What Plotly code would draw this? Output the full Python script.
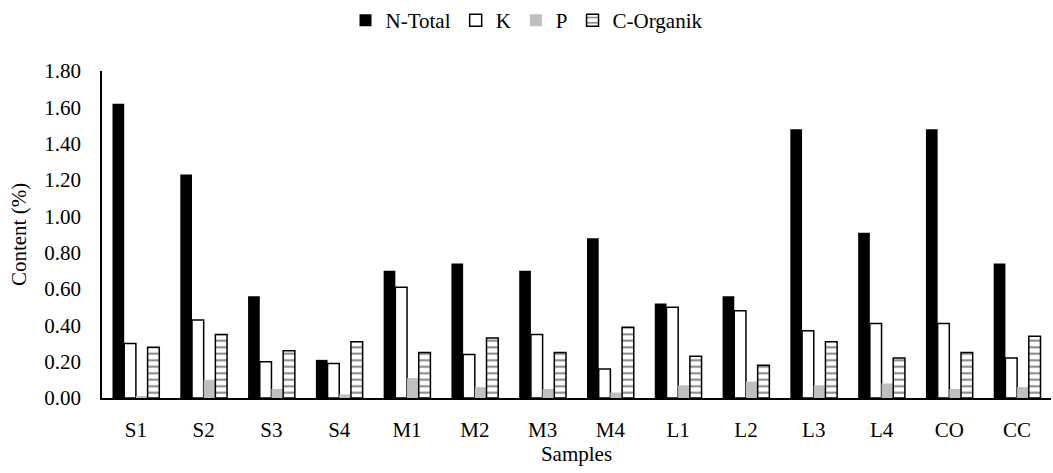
import plotly.graph_objects as go

samples = ["S1", "S2", "S3", "S4", "M1", "M2", "M3", "M4", "L1", "L2", "L3", "L4", "CO", "CC"]
n_total = [1.62, 1.23, 0.56, 0.21, 0.70, 0.74, 0.70, 0.88, 0.52, 0.56, 1.48, 0.91, 1.48, 0.74]
k_vals = [0.30, 0.43, 0.20, 0.19, 0.61, 0.24, 0.35, 0.16, 0.50, 0.48, 0.37, 0.41, 0.41, 0.22]
p_vals = [0.01, 0.10, 0.05, 0.02, 0.11, 0.06, 0.05, 0.03, 0.07, 0.09, 0.07, 0.08, 0.05, 0.06]
c_org = [0.28, 0.35, 0.26, 0.31, 0.25, 0.33, 0.25, 0.39, 0.23, 0.18, 0.31, 0.22, 0.25, 0.34]
y_ticks = [0.0, 0.2, 0.4, 0.6, 0.8, 1.0, 1.2, 1.4, 1.6, 1.8]

font_family = "Liberation Serif"
fs = 21

fig = go.Figure()
fig.add_trace(go.Bar(name="N-Total", x=samples, y=n_total,
                     marker=dict(color="black", line=dict(color="black", width=0))))
fig.add_trace(go.Bar(name="K", x=samples, y=k_vals,
                     marker=dict(color="white", line=dict(color="black", width=1.5))))
fig.add_trace(go.Bar(name="P", x=samples, y=p_vals,
                     marker=dict(color="#BFBFBF", line=dict(color="#BFBFBF", width=0))))
fig.add_trace(go.Bar(name="C-Organik", x=samples, y=c_org,
                     marker=dict(color="white", line=dict(color="black", width=1.5),
                                 pattern=dict(shape="-", fgcolor="black", bgcolor="white",
                                              size=6.5, solidity=0.3))))

fig.update_layout(
    width=1053, height=473,
    margin=dict(l=102, r=2, t=71, b=75),
    paper_bgcolor="white", plot_bgcolor="white",
    barmode="group", bargap=0.31, bargroupgap=0,
    font=dict(family=font_family, size=fs, color="black"),
    legend=dict(orientation="h", xref="container", x=0.5, xanchor="center",
                yref="container", y=1.0, yanchor="top",
                font=dict(family=font_family, size=fs), itemwidth=30,
                traceorder="normal"),
    showlegend=True,
)
fig.update_xaxes(showline=True, linecolor="black", linewidth=1.5, ticks="",
                 title=dict(text="Samples", font=dict(family=font_family, size=fs), standoff=2),
                 tickfont=dict(family=font_family, size=fs), ticklabelstandoff=12)
fig.update_yaxes(range=[0, 1.8], tickvals=y_ticks, tickformat=".2f",
                 showline=True, linecolor="black", linewidth=1.5, showgrid=False,
                 zeroline=False, ticks="",
                 title=dict(text="Content (%)", font=dict(family=font_family, size=fs), standoff=12),
                 tickfont=dict(family=font_family, size=fs), ticklabelstandoff=15)

fig.write_html("out.html")
